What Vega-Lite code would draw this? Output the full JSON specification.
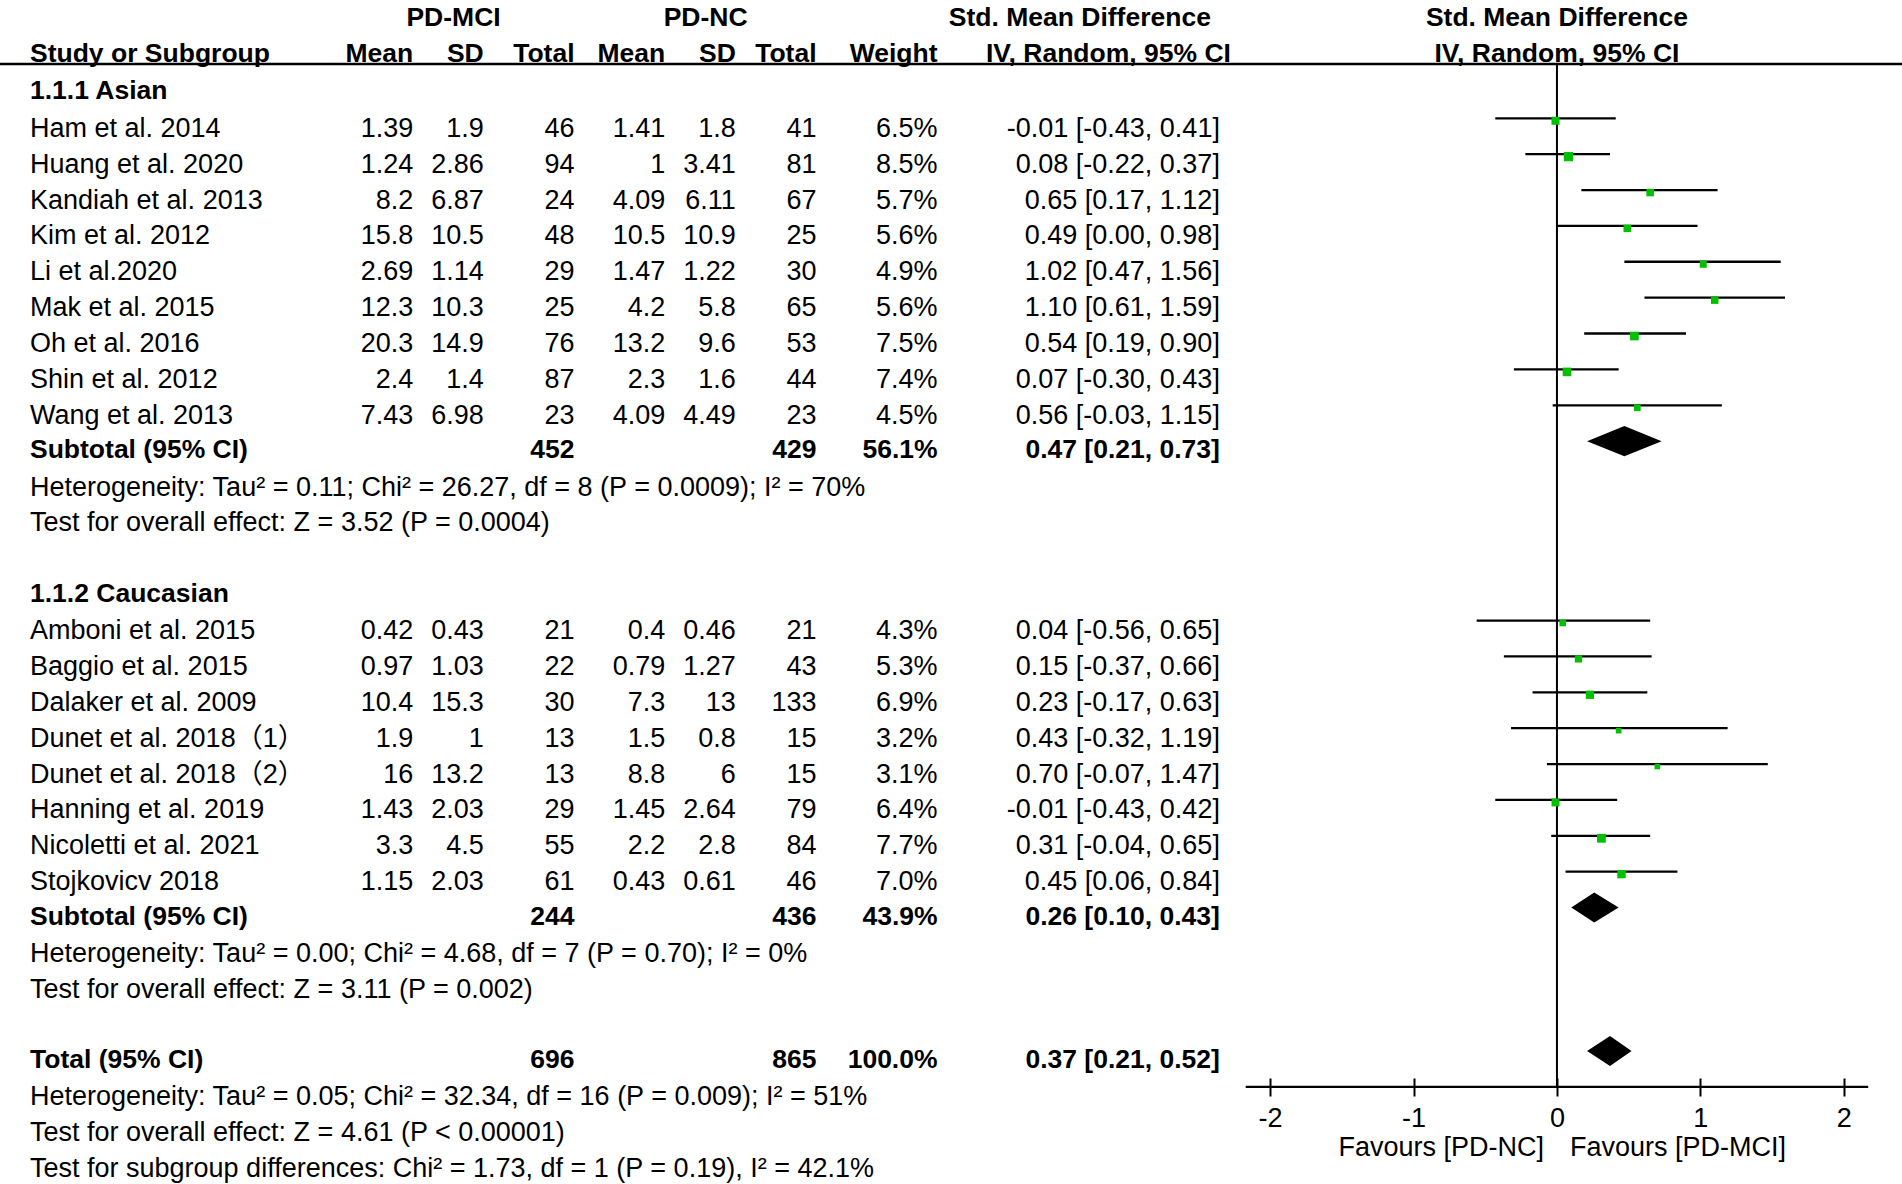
{
  "$schema": "https://vega.github.io/schema/vega-lite/v6.json",
  "width": 1902,
  "height": 1078,
  "padding": {"left": 0, "top": 0, "right": 0, "bottom": 106},
  "autosize": {"type": "none"},
  "background": "white",
  "config": {
    "view": {"stroke": null},
    "locale": {"number": {"decimal": ".", "thousands": ",", "grouping": [3], "currency": ["$", ""], "minus": "-"}},
    "text": {"font": "Liberation Sans, 'Noto Sans CJK SC', sans-serif", "fontSize": 27, "color": "#000000"}
  },
  "datasets": {
    "rows": [
      {"r": 0, "label": "1.1.1 Asian", "kind": "group"},
      {"r": 1, "label": "Ham et al. 2014", "kind": "study", "m1": 1.39, "sd1": 1.9, "n1": 46, "m2": 1.41, "sd2": 1.8, "n2": 41, "w": 6.5, "smd": -0.01, "lo": -0.43, "hi": 0.41},
      {"r": 2, "label": "Huang et al. 2020", "kind": "study", "m1": 1.24, "sd1": 2.86, "n1": 94, "m2": 1, "sd2": 3.41, "n2": 81, "w": 8.5, "smd": 0.08, "lo": -0.22, "hi": 0.37},
      {"r": 3, "label": "Kandiah et al. 2013", "kind": "study", "m1": 8.2, "sd1": 6.87, "n1": 24, "m2": 4.09, "sd2": 6.11, "n2": 67, "w": 5.7, "smd": 0.65, "lo": 0.17, "hi": 1.12},
      {"r": 4, "label": "Kim et al. 2012", "kind": "study", "m1": 15.8, "sd1": 10.5, "n1": 48, "m2": 10.5, "sd2": 10.9, "n2": 25, "w": 5.6, "smd": 0.49, "lo": 0.0, "hi": 0.98},
      {"r": 5, "label": "Li et al.2020", "kind": "study", "m1": 2.69, "sd1": 1.14, "n1": 29, "m2": 1.47, "sd2": 1.22, "n2": 30, "w": 4.9, "smd": 1.02, "lo": 0.47, "hi": 1.56},
      {"r": 6, "label": "Mak et al. 2015", "kind": "study", "m1": 12.3, "sd1": 10.3, "n1": 25, "m2": 4.2, "sd2": 5.8, "n2": 65, "w": 5.6, "smd": 1.10, "lo": 0.61, "hi": 1.59},
      {"r": 7, "label": "Oh et al. 2016", "kind": "study", "m1": 20.3, "sd1": 14.9, "n1": 76, "m2": 13.2, "sd2": 9.6, "n2": 53, "w": 7.5, "smd": 0.54, "lo": 0.19, "hi": 0.90},
      {"r": 8, "label": "Shin et al. 2012", "kind": "study", "m1": 2.4, "sd1": 1.4, "n1": 87, "m2": 2.3, "sd2": 1.6, "n2": 44, "w": 7.4, "smd": 0.07, "lo": -0.30, "hi": 0.43},
      {"r": 9, "label": "Wang et al. 2013", "kind": "study", "m1": 7.43, "sd1": 6.98, "n1": 23, "m2": 4.09, "sd2": 4.49, "n2": 23, "w": 4.5, "smd": 0.56, "lo": -0.03, "hi": 1.15},
      {"r": 10, "label": "Subtotal (95% CI)", "kind": "subtotal", "n1": 452, "n2": 429, "w": 56.1, "smd": 0.47, "lo": 0.21, "hi": 0.73},
      {"r": 11, "label": "Heterogeneity: Tau² = 0.11; Chi² = 26.27, df = 8 (P = 0.0009); I² = 70%", "kind": "note"},
      {"r": 12, "label": "Test for overall effect: Z = 3.52 (P = 0.0004)", "kind": "note"},
      {"r": 14, "label": "1.1.2 Caucasian", "kind": "group"},
      {"r": 15, "label": "Amboni et al. 2015", "kind": "study", "m1": 0.42, "sd1": 0.43, "n1": 21, "m2": 0.4, "sd2": 0.46, "n2": 21, "w": 4.3, "smd": 0.04, "lo": -0.56, "hi": 0.65},
      {"r": 16, "label": "Baggio et al. 2015", "kind": "study", "m1": 0.97, "sd1": 1.03, "n1": 22, "m2": 0.79, "sd2": 1.27, "n2": 43, "w": 5.3, "smd": 0.15, "lo": -0.37, "hi": 0.66},
      {"r": 17, "label": "Dalaker et al. 2009", "kind": "study", "m1": 10.4, "sd1": 15.3, "n1": 30, "m2": 7.3, "sd2": 13, "n2": 133, "w": 6.9, "smd": 0.23, "lo": -0.17, "hi": 0.63},
      {"r": 18, "label": "Dunet et al. 2018（1）", "kind": "study", "m1": 1.9, "sd1": 1, "n1": 13, "m2": 1.5, "sd2": 0.8, "n2": 15, "w": 3.2, "smd": 0.43, "lo": -0.32, "hi": 1.19},
      {"r": 19, "label": "Dunet et al. 2018（2）", "kind": "study", "m1": 16, "sd1": 13.2, "n1": 13, "m2": 8.8, "sd2": 6, "n2": 15, "w": 3.1, "smd": 0.70, "lo": -0.07, "hi": 1.47},
      {"r": 20, "label": "Hanning et al. 2019", "kind": "study", "m1": 1.43, "sd1": 2.03, "n1": 29, "m2": 1.45, "sd2": 2.64, "n2": 79, "w": 6.4, "smd": -0.01, "lo": -0.43, "hi": 0.42},
      {"r": 21, "label": "Nicoletti et al. 2021", "kind": "study", "m1": 3.3, "sd1": 4.5, "n1": 55, "m2": 2.2, "sd2": 2.8, "n2": 84, "w": 7.7, "smd": 0.31, "lo": -0.04, "hi": 0.65},
      {"r": 22, "label": "Stojkovicv 2018", "kind": "study", "m1": 1.15, "sd1": 2.03, "n1": 61, "m2": 0.43, "sd2": 0.61, "n2": 46, "w": 7.0, "smd": 0.45, "lo": 0.06, "hi": 0.84},
      {"r": 23, "label": "Subtotal (95% CI)", "kind": "subtotal", "n1": 244, "n2": 436, "w": 43.9, "smd": 0.26, "lo": 0.10, "hi": 0.43},
      {"r": 24, "label": "Heterogeneity: Tau² = 0.00; Chi² = 4.68, df = 7 (P = 0.70); I² = 0%", "kind": "note"},
      {"r": 25, "label": "Test for overall effect: Z = 3.11 (P = 0.002)", "kind": "note"},
      {"r": 27, "label": "Total (95% CI)", "kind": "total", "n1": 696, "n2": 865, "w": 100.0, "smd": 0.37, "lo": 0.21, "hi": 0.52},
      {"r": 28, "label": "Heterogeneity: Tau² = 0.05; Chi² = 32.34, df = 16 (P = 0.009); I² = 51%", "kind": "note"},
      {"r": 29, "label": "Test for overall effect: Z = 4.61 (P < 0.00001)", "kind": "note"},
      {"r": 30, "label": "Test for subgroup differences: Chi² = 1.73, df = 1 (P = 0.19), I² = 42.1%", "kind": "note"}
    ],
    "headers": [
      {"r": -2, "key": "grpA", "label": "PD-MCI", "pos": "center"},
      {"r": -2, "key": "grpB", "label": "PD-NC", "pos": "center"},
      {"r": -2, "key": "citxt", "label": "Std. Mean Difference", "pos": "ciA"},
      {"r": -1, "key": "study", "label": "Study or Subgroup", "pos": "left"},
      {"r": -1, "key": "m1", "label": "Mean", "pos": "right"},
      {"r": -1, "key": "sd1", "label": "SD", "pos": "right"},
      {"r": -1, "key": "n1", "label": "Total", "pos": "right"},
      {"r": -1, "key": "m2", "label": "Mean", "pos": "right"},
      {"r": -1, "key": "sd2", "label": "SD", "pos": "right"},
      {"r": -1, "key": "n2", "label": "Total", "pos": "right"},
      {"r": -1, "key": "wtxt", "label": "Weight", "pos": "right"},
      {"r": -1, "key": "citxt", "label": "IV, Random, 95% CI", "pos": "ciB"},
      {"r": -2, "key": "forest", "label": "Std. Mean Difference", "pos": "forest"},
      {"r": -1, "key": "forest", "label": "IV, Random, 95% CI", "pos": "forest"}
    ],
    "favours": [
      {"label": "Favours [PD-NC]", "side": "left"},
      {"label": "Favours [PD-MCI]", "side": "right"}
    ],
    "lines": [
      {"line": "header"},
      {"line": "zero"},
      {"line": "axis"}
    ]
  },
  "resolve": {"scale": {"x": "independent"}, "axis": {"x": "independent"}},
  "layer": [
    {
      "layer": [
        {
          "data": {"name": "rows"},
          "transform": [{"filter": "datum.kind === 'study' || datum.kind === 'note'"}],
          "mark": {"type": "text", "align": "left", "dy": 10.5},
          "encoding": {
            "x": {"datum": "study", "type": "nominal", "axis": null, "scale": {"type": "point", "padding": 0, "range": [30, 1219.9], "domain": ["study","_1","_2","_3","_4","_5","_6","_7","_8","_9","_10","_11","_12","_13","_14","_15","_16","_17","_18","_19","_20","_21","_22","_23","_24","_25","_26","_27","_28","_29","_30","_31","_32","_33","_34","_35","_36","_37","m1","_39","_40","_41","grpA","_43","_44","sd1","_46","_47","_48","_49","_50","_51","_52","_53","n1","_55","_56","_57","_58","_59","_60","_61","_62","m2","_64","_65","_66","grpB","_68","_69","sd2","_71","_72","_73","_74","_75","_76","_77","n2","_79","_80","_81","_82","_83","_84","_85","_86","_87","_88","_89","wtxt","_91","_92","_93","_94","_95","_96","_97","_98","_99","_100","_101","_102","_103","_104","_105","_106","_107","_108","_109","_110","_111","_112","_113","_114","_115","_116","_117","citxt"]}},
            "y": {"field": "r", "type": "quantitative", "axis": null, "scale": {"domain": [0, 30], "range": [82.4, 1158.65], "nice": false, "zero": false}},
            "text": {"field": "label", "type": "nominal"}
          }
        },
        {
          "data": {"name": "rows"},
          "transform": [{"filter": "datum.kind === 'group' || datum.kind === 'subtotal' || datum.kind === 'total'"}],
          "mark": {"type": "text", "align": "left", "dy": 9, "fontWeight": "bold", "fontSize": 26.5},
          "encoding": {
            "x": {"datum": "study", "type": "nominal", "axis": null, "scale": {"type": "point", "padding": 0, "range": [30, 1219.9], "domain": ["study","_1","_2","_3","_4","_5","_6","_7","_8","_9","_10","_11","_12","_13","_14","_15","_16","_17","_18","_19","_20","_21","_22","_23","_24","_25","_26","_27","_28","_29","_30","_31","_32","_33","_34","_35","_36","_37","m1","_39","_40","_41","grpA","_43","_44","sd1","_46","_47","_48","_49","_50","_51","_52","_53","n1","_55","_56","_57","_58","_59","_60","_61","_62","m2","_64","_65","_66","grpB","_68","_69","sd2","_71","_72","_73","_74","_75","_76","_77","n2","_79","_80","_81","_82","_83","_84","_85","_86","_87","_88","_89","wtxt","_91","_92","_93","_94","_95","_96","_97","_98","_99","_100","_101","_102","_103","_104","_105","_106","_107","_108","_109","_110","_111","_112","_113","_114","_115","_116","_117","citxt"]}},
            "y": {"field": "r", "type": "quantitative", "axis": null, "scale": {"domain": [0, 30], "range": [82.4, 1158.65], "nice": false, "zero": false}},
            "text": {"field": "label", "type": "nominal"}
          }
        },
        {
          "data": {"name": "rows"},
          "transform": [
            {"filter": "datum.kind === 'study'"},
            {"calculate": "isValid(datum.w) ? format(datum.w, '.1f') + '%' : null", "as": "wtxt"},
            {"calculate": "isValid(datum.smd) ? format(datum.smd, '.2f') + ' [' + format(datum.lo, '.2f') + ', ' + format(datum.hi, '.2f') + ']' : null", "as": "citxt"},
            {"fold": ["m1", "sd1", "n1", "m2", "sd2", "n2", "wtxt", "citxt"], "as": ["key", "value"]},
            {"filter": "isValid(datum.value)"}
          ],
          "mark": {"type": "text", "align": "right", "dy": 10.5},
          "encoding": {
            "x": {"field": "key", "type": "nominal", "axis": null, "scale": {"type": "point", "padding": 0, "range": [30, 1219.9], "domain": ["study","_1","_2","_3","_4","_5","_6","_7","_8","_9","_10","_11","_12","_13","_14","_15","_16","_17","_18","_19","_20","_21","_22","_23","_24","_25","_26","_27","_28","_29","_30","_31","_32","_33","_34","_35","_36","_37","m1","_39","_40","_41","grpA","_43","_44","sd1","_46","_47","_48","_49","_50","_51","_52","_53","n1","_55","_56","_57","_58","_59","_60","_61","_62","m2","_64","_65","_66","grpB","_68","_69","sd2","_71","_72","_73","_74","_75","_76","_77","n2","_79","_80","_81","_82","_83","_84","_85","_86","_87","_88","_89","wtxt","_91","_92","_93","_94","_95","_96","_97","_98","_99","_100","_101","_102","_103","_104","_105","_106","_107","_108","_109","_110","_111","_112","_113","_114","_115","_116","_117","citxt"]}},
            "y": {"field": "r", "type": "quantitative", "axis": null, "scale": {"domain": [0, 30], "range": [82.4, 1158.65], "nice": false, "zero": false}},
            "text": {"field": "value", "type": "nominal"}
          }
        },
        {
          "data": {"name": "rows"},
          "transform": [
            {"filter": "datum.kind === 'subtotal' || datum.kind === 'total'"},
            {"calculate": "isValid(datum.w) ? format(datum.w, '.1f') + '%' : null", "as": "wtxt"},
            {"calculate": "isValid(datum.smd) ? format(datum.smd, '.2f') + ' [' + format(datum.lo, '.2f') + ', ' + format(datum.hi, '.2f') + ']' : null", "as": "citxt"},
            {"fold": ["n1", "n2", "wtxt", "citxt"], "as": ["key", "value"]},
            {"filter": "isValid(datum.value)"}
          ],
          "mark": {"type": "text", "align": "right", "dy": 9, "fontWeight": "bold", "fontSize": 26.5},
          "encoding": {
            "x": {"field": "key", "type": "nominal", "axis": null, "scale": {"type": "point", "padding": 0, "range": [30, 1219.9], "domain": ["study","_1","_2","_3","_4","_5","_6","_7","_8","_9","_10","_11","_12","_13","_14","_15","_16","_17","_18","_19","_20","_21","_22","_23","_24","_25","_26","_27","_28","_29","_30","_31","_32","_33","_34","_35","_36","_37","m1","_39","_40","_41","grpA","_43","_44","sd1","_46","_47","_48","_49","_50","_51","_52","_53","n1","_55","_56","_57","_58","_59","_60","_61","_62","m2","_64","_65","_66","grpB","_68","_69","sd2","_71","_72","_73","_74","_75","_76","_77","n2","_79","_80","_81","_82","_83","_84","_85","_86","_87","_88","_89","wtxt","_91","_92","_93","_94","_95","_96","_97","_98","_99","_100","_101","_102","_103","_104","_105","_106","_107","_108","_109","_110","_111","_112","_113","_114","_115","_116","_117","citxt"]}},
            "y": {"field": "r", "type": "quantitative", "axis": null, "scale": {"domain": [0, 30], "range": [82.4, 1158.65], "nice": false, "zero": false}},
            "text": {"field": "value", "type": "nominal"}
          }
        },
        {
          "data": {"name": "headers"},
          "transform": [{"filter": "datum.pos === 'left'"}],
          "mark": {"type": "text", "align": "left", "dy": 7, "fontWeight": "bold", "fontSize": 26.5},
          "encoding": {
            "x": {"field": "key", "type": "nominal", "axis": null, "scale": {"type": "point", "padding": 0, "range": [30, 1219.9], "domain": ["study","_1","_2","_3","_4","_5","_6","_7","_8","_9","_10","_11","_12","_13","_14","_15","_16","_17","_18","_19","_20","_21","_22","_23","_24","_25","_26","_27","_28","_29","_30","_31","_32","_33","_34","_35","_36","_37","m1","_39","_40","_41","grpA","_43","_44","sd1","_46","_47","_48","_49","_50","_51","_52","_53","n1","_55","_56","_57","_58","_59","_60","_61","_62","m2","_64","_65","_66","grpB","_68","_69","sd2","_71","_72","_73","_74","_75","_76","_77","n2","_79","_80","_81","_82","_83","_84","_85","_86","_87","_88","_89","wtxt","_91","_92","_93","_94","_95","_96","_97","_98","_99","_100","_101","_102","_103","_104","_105","_106","_107","_108","_109","_110","_111","_112","_113","_114","_115","_116","_117","citxt"]}},
            "y": {"field": "r", "type": "quantitative", "axis": null, "scale": {"domain": [0, 30], "range": [82.4, 1158.65], "nice": false, "zero": false}},
            "text": {"field": "label", "type": "nominal"}
          }
        },
        {
          "data": {"name": "headers"},
          "transform": [{"filter": "datum.pos === 'center'"}],
          "mark": {"type": "text", "align": "center", "dy": 7, "fontWeight": "bold", "fontSize": 26.5},
          "encoding": {
            "x": {"field": "key", "type": "nominal", "axis": null, "scale": {"type": "point", "padding": 0, "range": [30, 1219.9], "domain": ["study","_1","_2","_3","_4","_5","_6","_7","_8","_9","_10","_11","_12","_13","_14","_15","_16","_17","_18","_19","_20","_21","_22","_23","_24","_25","_26","_27","_28","_29","_30","_31","_32","_33","_34","_35","_36","_37","m1","_39","_40","_41","grpA","_43","_44","sd1","_46","_47","_48","_49","_50","_51","_52","_53","n1","_55","_56","_57","_58","_59","_60","_61","_62","m2","_64","_65","_66","grpB","_68","_69","sd2","_71","_72","_73","_74","_75","_76","_77","n2","_79","_80","_81","_82","_83","_84","_85","_86","_87","_88","_89","wtxt","_91","_92","_93","_94","_95","_96","_97","_98","_99","_100","_101","_102","_103","_104","_105","_106","_107","_108","_109","_110","_111","_112","_113","_114","_115","_116","_117","citxt"]}},
            "y": {"field": "r", "type": "quantitative", "axis": null, "scale": {"domain": [0, 30], "range": [82.4, 1158.65], "nice": false, "zero": false}},
            "text": {"field": "label", "type": "nominal"}
          }
        },
        {
          "data": {"name": "headers"},
          "transform": [{"filter": "datum.pos === 'right'"}],
          "mark": {"type": "text", "align": "right", "dy": 7, "fontWeight": "bold", "fontSize": 26.5},
          "encoding": {
            "x": {"field": "key", "type": "nominal", "axis": null, "scale": {"type": "point", "padding": 0, "range": [30, 1219.9], "domain": ["study","_1","_2","_3","_4","_5","_6","_7","_8","_9","_10","_11","_12","_13","_14","_15","_16","_17","_18","_19","_20","_21","_22","_23","_24","_25","_26","_27","_28","_29","_30","_31","_32","_33","_34","_35","_36","_37","m1","_39","_40","_41","grpA","_43","_44","sd1","_46","_47","_48","_49","_50","_51","_52","_53","n1","_55","_56","_57","_58","_59","_60","_61","_62","m2","_64","_65","_66","grpB","_68","_69","sd2","_71","_72","_73","_74","_75","_76","_77","n2","_79","_80","_81","_82","_83","_84","_85","_86","_87","_88","_89","wtxt","_91","_92","_93","_94","_95","_96","_97","_98","_99","_100","_101","_102","_103","_104","_105","_106","_107","_108","_109","_110","_111","_112","_113","_114","_115","_116","_117","citxt"]}},
            "y": {"field": "r", "type": "quantitative", "axis": null, "scale": {"domain": [0, 30], "range": [82.4, 1158.65], "nice": false, "zero": false}},
            "text": {"field": "label", "type": "nominal"}
          }
        },
        {
          "data": {"name": "headers"},
          "transform": [{"filter": "datum.pos === 'ciA'"}],
          "mark": {"type": "text", "align": "right", "dy": 7, "dx": -9, "fontWeight": "bold", "fontSize": 26.5},
          "encoding": {
            "x": {"field": "key", "type": "nominal", "axis": null, "scale": {"type": "point", "padding": 0, "range": [30, 1219.9], "domain": ["study","_1","_2","_3","_4","_5","_6","_7","_8","_9","_10","_11","_12","_13","_14","_15","_16","_17","_18","_19","_20","_21","_22","_23","_24","_25","_26","_27","_28","_29","_30","_31","_32","_33","_34","_35","_36","_37","m1","_39","_40","_41","grpA","_43","_44","sd1","_46","_47","_48","_49","_50","_51","_52","_53","n1","_55","_56","_57","_58","_59","_60","_61","_62","m2","_64","_65","_66","grpB","_68","_69","sd2","_71","_72","_73","_74","_75","_76","_77","n2","_79","_80","_81","_82","_83","_84","_85","_86","_87","_88","_89","wtxt","_91","_92","_93","_94","_95","_96","_97","_98","_99","_100","_101","_102","_103","_104","_105","_106","_107","_108","_109","_110","_111","_112","_113","_114","_115","_116","_117","citxt"]}},
            "y": {"field": "r", "type": "quantitative", "axis": null, "scale": {"domain": [0, 30], "range": [82.4, 1158.65], "nice": false, "zero": false}},
            "text": {"field": "label", "type": "nominal"}
          }
        },
        {
          "data": {"name": "headers"},
          "transform": [{"filter": "datum.pos === 'ciB'"}],
          "mark": {"type": "text", "align": "right", "dy": 7, "dx": 11, "fontWeight": "bold", "fontSize": 26.5},
          "encoding": {
            "x": {"field": "key", "type": "nominal", "axis": null, "scale": {"type": "point", "padding": 0, "range": [30, 1219.9], "domain": ["study","_1","_2","_3","_4","_5","_6","_7","_8","_9","_10","_11","_12","_13","_14","_15","_16","_17","_18","_19","_20","_21","_22","_23","_24","_25","_26","_27","_28","_29","_30","_31","_32","_33","_34","_35","_36","_37","m1","_39","_40","_41","grpA","_43","_44","sd1","_46","_47","_48","_49","_50","_51","_52","_53","n1","_55","_56","_57","_58","_59","_60","_61","_62","m2","_64","_65","_66","grpB","_68","_69","sd2","_71","_72","_73","_74","_75","_76","_77","n2","_79","_80","_81","_82","_83","_84","_85","_86","_87","_88","_89","wtxt","_91","_92","_93","_94","_95","_96","_97","_98","_99","_100","_101","_102","_103","_104","_105","_106","_107","_108","_109","_110","_111","_112","_113","_114","_115","_116","_117","citxt"]}},
            "y": {"field": "r", "type": "quantitative", "axis": null, "scale": {"domain": [0, 30], "range": [82.4, 1158.65], "nice": false, "zero": false}},
            "text": {"field": "label", "type": "nominal"}
          }
        }
      ]
    },
    {
      "layer": [
        {
          "data": {"name": "lines"},
          "transform": [{"filter": "datum.line === 'header'"}],
          "mark": {"type": "rule", "color": "#000000", "strokeWidth": 2.5},
          "encoding": {
            "x": {"datum": -10.86, "type": "quantitative", "title": null, "scale": {"domain": [-2.17, 2.17], "range": [1245.7, 1868.2], "nice": false, "zero": false}},
            "x2": {"datum": 2.41},
            "y": {"datum": -0.513, "type": "quantitative", "axis": null, "scale": {"domain": [0, 30], "range": [82.4, 1158.65], "nice": false, "zero": false}}
          }
        },
        {
          "data": {"name": "lines"},
          "transform": [{"filter": "datum.line === 'zero'"}],
          "mark": {"type": "rule", "color": "#000000", "strokeWidth": 2},
          "encoding": {
            "x": {"datum": 0, "type": "quantitative", "title": null, "scale": {"domain": [-2.17, 2.17], "range": [1245.7, 1868.2], "nice": false, "zero": false}},
            "y": {"datum": -0.513, "type": "quantitative", "axis": null, "scale": {"domain": [0, 30], "range": [82.4, 1158.65], "nice": false, "zero": false}},
            "y2": {"datum": 28}
          }
        },
        {
          "data": {"name": "lines"},
          "transform": [{"filter": "datum.line === 'axis'"}],
          "mark": {"type": "rule", "color": "#000000", "strokeWidth": 2.2},
          "encoding": {
            "x": {"datum": -2.17, "type": "quantitative", "title": null, "scale": {"domain": [-2.17, 2.17], "range": [1245.7, 1868.2], "nice": false, "zero": false}},
            "x2": {"datum": 2.17},
            "y": {"datum": 28, "type": "quantitative", "axis": null, "scale": {"domain": [0, 30], "range": [82.4, 1158.65], "nice": false, "zero": false}}
          }
        },
        {
          "data": {"name": "rows"},
          "transform": [{"filter": "datum.kind === 'study'"}],
          "mark": {"type": "rule", "color": "#000000", "strokeWidth": 2.3},
          "encoding": {
            "x": {"field": "lo", "type": "quantitative", "title": null, "scale": {"domain": [-2.17, 2.17], "range": [1245.7, 1868.2], "nice": false, "zero": false},
              "axis": {"orient": "bottom", "values": [-2, -1, 0, 1, 2], "format": "d", "domain": false, "grid": false, "ticks": true, "tickSize": 18, "tickWidth": 2, "tickColor": "#000000", "labelFont": "Liberation Sans", "labelFontSize": 27, "labelColor": "#000000", "labelPadding": 9, "labelFlush": false, "labelOverlap": false, "title": null}},
            "x2": {"field": "hi"},
            "y": {"field": "r", "type": "quantitative", "axis": null, "scale": {"domain": [0, 30], "range": [82.4, 1158.65], "nice": false, "zero": false}}
          }
        },
        {
          "data": {"name": "rows"},
          "transform": [{"filter": "datum.kind === 'study'"}],
          "mark": {"type": "square", "filled": true, "color": "#00C000", "opacity": 1},
          "encoding": {
            "x": {"field": "smd", "type": "quantitative", "title": null, "scale": {"domain": [-2.17, 2.17], "range": [1245.7, 1868.2], "nice": false, "zero": false}},
            "y": {"field": "r", "type": "quantitative", "axis": null, "scale": {"domain": [0, 30], "range": [82.4, 1158.65], "nice": false, "zero": false}},
            "yOffset": {"value": 2.5},
            "size": {"field": "w", "type": "quantitative", "legend": null, "scale": {"type": "linear", "domain": [0, 10], "range": [0, 100]}}
          }
        },
        {
          "data": {"name": "rows"},
          "transform": [
            {"filter": "datum.kind === 'subtotal' || datum.kind === 'total'"},
            {"fold": ["lo", "smd", "hi"], "as": ["pt", "xv"]},
            {"calculate": "datum.pt === 'smd' ? 0.42 : 0", "as": "half"},
            {"calculate": "datum.r - datum.half", "as": "ya"},
            {"calculate": "datum.r + datum.half", "as": "yb"}
          ],
          "mark": {"type": "area", "color": "#000000", "opacity": 1},
          "encoding": {
            "x": {"field": "xv", "type": "quantitative", "title": null, "scale": {"domain": [-2.17, 2.17], "range": [1245.7, 1868.2], "nice": false, "zero": false}},
            "y": {"field": "ya", "type": "quantitative", "axis": null, "scale": {"domain": [0, 30], "range": [82.4, 1158.65], "nice": false, "zero": false}},
            "y2": {"field": "yb"},
            "detail": {"field": "r", "type": "nominal"}
          }
        },
        {
          "data": {"name": "headers"},
          "transform": [{"filter": "datum.pos === 'forest'"}],
          "mark": {"type": "text", "align": "center", "dy": 7, "fontWeight": "bold", "fontSize": 26.5},
          "encoding": {
            "x": {"datum": 0, "type": "quantitative", "title": null, "scale": {"domain": [-2.17, 2.17], "range": [1245.7, 1868.2], "nice": false, "zero": false}},
            "y": {"field": "r", "type": "quantitative", "axis": null, "scale": {"domain": [0, 30], "range": [82.4, 1158.65], "nice": false, "zero": false}},
            "text": {"field": "label", "type": "nominal"}
          }
        },
        {
          "data": {"name": "favours"},
          "transform": [{"filter": "datum.side === 'left'"}],
          "mark": {"type": "text", "align": "right", "dx": -13},
          "encoding": {
            "x": {"datum": 0, "type": "quantitative", "title": null, "scale": {"domain": [-2.17, 2.17], "range": [1245.7, 1868.2], "nice": false, "zero": false}},
            "y": {"datum": 29.71, "type": "quantitative", "axis": null, "scale": {"domain": [0, 30], "range": [82.4, 1158.65], "nice": false, "zero": false}},
            "text": {"field": "label", "type": "nominal"}
          }
        },
        {
          "data": {"name": "favours"},
          "transform": [{"filter": "datum.side === 'right'"}],
          "mark": {"type": "text", "align": "left", "dx": 13},
          "encoding": {
            "x": {"datum": 0, "type": "quantitative", "title": null, "scale": {"domain": [-2.17, 2.17], "range": [1245.7, 1868.2], "nice": false, "zero": false}},
            "y": {"datum": 29.71, "type": "quantitative", "axis": null, "scale": {"domain": [0, 30], "range": [82.4, 1158.65], "nice": false, "zero": false}},
            "text": {"field": "label", "type": "nominal"}
          }
        }
      ]
    }
  ]
}
